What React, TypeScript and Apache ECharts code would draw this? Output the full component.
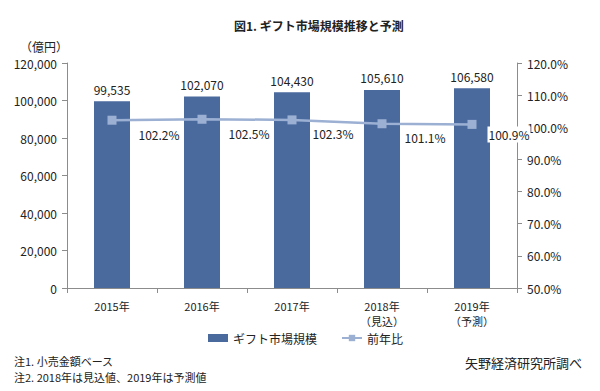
import React, { useEffect, useRef } from "react";
import * as echarts from "echarts";

const categories = ["2015年", "2016年", "2017年", "2018年\n（見込）", "2019年\n（予測）"];
const marketSize = [99535, 102070, 104430, 105610, 106580];
const yoyRatio = [102.2, 102.5, 102.3, 101.1, 100.9];
const leftTicks = { min: 0, max: 120000, interval: 20000 };
const rightTicks = { min: 50, max: 120, interval: 10 };
const seriesNames = ["ギフト市場規模", "前年比"];
const titleText = "図1. ギフト市場規模推移と予測";
const unitText = "（億円）";
const note1 = "注1. 小売金額ベース";
const note2 = "注2. 2018年は見込値、2019年は予測値";
const sourceText = "矢野経済研究所調べ";

// label placement (layout only)
const lineLabelOffsets = [
  [47, 14],
  [47, 14],
  [41, 14],
  [43, 14],
  [37, 10],
];

const FONT = "'Noto Sans CJK JP', 'Noto Sans', sans-serif";
const BAR = "#4a6a9e";
const LINE = "#9cb0d3";
const AXIS = "#8c8c8c";
const TXT = "#222";

export default function App() {
  const ref = useRef<HTMLDivElement>(null);
  useEffect(() => {
    document.body.style.margin = "0";
    const chart = echarts.init(ref.current!, null, { renderer: "svg" });
    chart.setOption({
      animation: false,
      backgroundColor: "#fff",
      textStyle: { fontFamily: FONT },
      grid: { left: 67, right: 83, top: 63, bottom: 103 },
      title: {
        text: titleText,
        left: 229,
        top: 14,
        textStyle: { fontFamily: FONT, fontSize: 12, fontWeight: "bold", color: TXT },
      },
      legend: {
        bottom: 42,
        left: 203,
        itemGap: 24,
        itemWidth: 20,
        itemHeight: 8,
        textStyle: { fontFamily: FONT, fontSize: 12, color: TXT },
        data: [
          { name: seriesNames[0], icon: "rect" },
          { name: seriesNames[1] },
        ],
      },
      xAxis: {
        type: "category",
        data: categories,
        axisLine: { lineStyle: { color: AXIS } },
        axisTick: { show: true, length: 5, lineStyle: { color: AXIS } },
        axisLabel: { color: TXT, fontSize: 11, margin: 10, lineHeight: 15, fontFamily: FONT },
      },
      yAxis: [
        {
          type: "value",
          min: leftTicks.min,
          max: leftTicks.max,
          interval: leftTicks.interval,
          splitLine: { show: false },
          axisLine: { show: true, lineStyle: { color: AXIS } },
          axisTick: { show: true, length: 5, lineStyle: { color: AXIS } },
          axisLabel: {
            color: TXT,
            fontSize: 12,
            margin: 10,
            fontFamily: FONT,
            formatter: (v: number) => v.toLocaleString("en-US"),
          },
        },
        {
          type: "value",
          min: rightTicks.min,
          max: rightTicks.max,
          interval: rightTicks.interval,
          splitLine: { show: false },
          axisLine: { show: true, lineStyle: { color: AXIS } },
          axisTick: { show: true, length: 5, lineStyle: { color: AXIS } },
          axisLabel: {
            color: TXT,
            fontSize: 12,
            margin: 10,
            fontFamily: FONT,
            formatter: (v: number) => v.toFixed(1) + "%",
          },
        },
      ],
      series: [
        {
          name: seriesNames[0],
          type: "bar",
          data: marketSize,
          barWidth: 36,
          itemStyle: { color: BAR },
          label: {
            show: true,
            position: "top",
            distance: 6,
            color: TXT,
            fontSize: 12,
            fontFamily: FONT,
            formatter: (p: any) => Number(p.value).toLocaleString("en-US"),
          },
        },
        {
          name: seriesNames[1],
          type: "line",
          yAxisIndex: 1,
          data: yoyRatio.map((v, i) => ({
            value: v,
            label: { offset: lineLabelOffsets[i] },
          })),
          symbol: "rect",
          symbolSize: 9,
          lineStyle: { color: LINE, width: 2.5 },
          itemStyle: { color: LINE },
          label: {
            show: true,
            position: "inside",
            color: TXT,
            fontSize: 12,
            fontFamily: FONT,
            backgroundColor: "#fff",
            padding: [2, 1],
            formatter: (p: any) => Number(p.value).toFixed(1) + "%",
          },
          z: 5,
        },
      ],
      graphic: [
        {
          type: "text",
          left: 20,
          top: 40,
          style: { text: unitText, font: `12px ${FONT}`, fill: TXT },
        },
        {
          type: "text",
          left: 14,
          top: 355,
          style: { text: note1, font: `11px ${FONT}`, fill: TXT },
        },
        {
          type: "text",
          left: 14,
          top: 371,
          style: { text: note2, font: `11px ${FONT}`, fill: TXT },
        },
        {
          type: "text",
          left: 465,
          top: 356,
          style: { text: sourceText, font: `13px ${FONT}`, fill: TXT },
        },
      ],
    });
    return () => chart.dispose();
  }, []);
  return <div ref={ref} style={{ width: 600, height: 391 }} />;
}
